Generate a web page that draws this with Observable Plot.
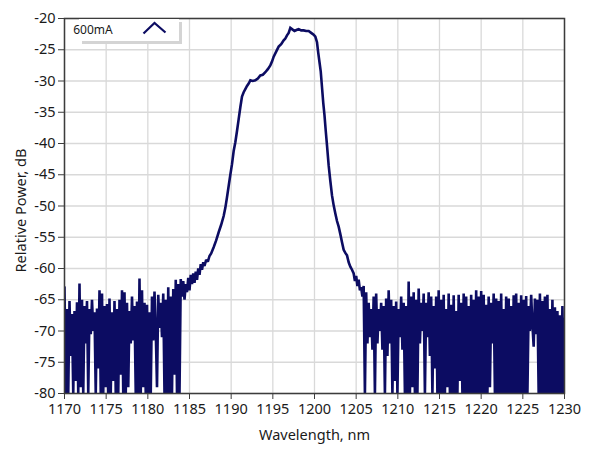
<!DOCTYPE html>
<html><head><meta charset="utf-8">
<script src="https://cdn.jsdelivr.net/npm/d3@7"></script>
<script src="https://cdn.jsdelivr.net/npm/@observablehq/plot@0.6"></script>
<style>
body{margin:0;background:#fff;}
#chart{width:589px;height:456px;}
</style></head><body><div id="chart"></div>
<script>
const seriesName = "600mA";
const xLabel = "Wavelength, nm";
const yLabel = "Relative Power, dB";
const xTicks = [1170,1175,1180,1185,1190,1195,1200,1205,1210,1215,1220,1225,1230];
const yTicks = [-80,-75,-70,-65,-60,-55,-50,-45,-40,-35,-30,-25,-20];

// noise floor left of the peak, sampled every 0.15 nm from 1170 nm
const noiseLeftStart = 1170.0;
const noiseStep = 0.15;
const noiseLeftDb = [
-63.0,-80,-66.5,-80,-65.2,-74,-67.3,-80,-66.8,-78,
-65.4,-80,-62.4,-79,-65.0,-80,-66.0,-72,-65.2,-80,
-66.5,-70.5,-65.0,-70.0,-67.0,-80,-66.4,-76,-63.5,-80,
-64.0,-80,-66.0,-79,-65.7,-80,-64.8,-80,-67.0,-78,
-65.2,-80,-66.5,-80,-65.0,-77,-63.5,-80,-63.8,-80,
-65.5,-79,-66.8,-72,-64.5,-71.5,-66.0,-80,-65.3,-80,
-61.6,-80,-63.5,-79,-65.5,-80,-65.8,-80,-67.0,-80,
-64.5,-71.5,-63.7,-70,-79,-64.2,-69.5,-65.5,-71,-64.0,
-80,-65.0,-80,-63.0,-80,-64.5,-80,-63.3,-77,-61.8,
-80,-62.5,-80
];

// main emission band
const peakWl = [
1183.95,1184.1,1184.25,1184.4,1184.55,1184.7,1184.85,1185.0,1185.15,1185.3,
1185.45,1185.6,1185.75,1185.9,1186.05,1186.2,1186.35,1186.5,1186.65,1186.8,
1187.0,1187.2,1187.4,1187.6,1187.9,1188.2,1188.5,1188.8,1189.1,1189.3,
1189.5,1189.7,1189.9,1190.1,1190.3,1190.5,1190.7,1190.9,1191.1,1191.3,
1191.5,1191.7,1191.9,1192.1,1192.3,1192.6,1192.9,1193.2,1193.5,1193.8,
1194.1,1194.4,1194.7,1194.9,1195.1,1195.4,1195.7,1196.0,1196.3,1196.5,
1196.7,1196.9,1197.1,1197.3,1197.6,1197.9,1198.1,1198.4,1198.7,1199.0,
1199.3,1199.6,1199.9,1200.1,1200.3,1200.45,1200.6,1200.75,1200.9,1201.05,
1201.2,1201.35,1201.5,1201.7,1201.9,1202.1,1202.3,1202.5,1202.7,1202.9,
1203.1,1203.3,1203.5,1203.7,1203.9,1204.1,1204.3,1204.5,1204.7,1204.85,
1205.0,1205.15,1205.3,1205.45
];
const peakDb = [
-61.7,-64.5,-62.0,-65.0,-62.5,-63.8,-61.5,-63.5,-61.0,-62.5,
-60.8,-62.3,-60.5,-61.8,-60.0,-61.0,-59.3,-60.2,-59.0,-59.6,
-58.6,-58.9,-58.0,-57.6,-56.6,-55.5,-54.2,-53.0,-51.6,-50.3,
-48.6,-46.8,-45.0,-43.3,-41.2,-39.8,-38.0,-36.1,-34.2,-32.5,
-31.8,-31.3,-30.8,-30.4,-29.9,-30.0,-29.9,-29.6,-29.1,-29.0,
-28.6,-28.1,-27.5,-26.9,-26.1,-25.3,-24.5,-24.1,-23.5,-23.2,
-22.7,-22.3,-21.5,-21.7,-22.0,-21.8,-21.7,-21.9,-21.9,-22.0,
-22.0,-22.3,-22.6,-22.9,-23.8,-25.5,-27.0,-28.5,-31.0,-33.5,
-35.5,-38.0,-40.3,-43.5,-46.0,-48.3,-49.9,-51.2,-52.4,-53.3,
-54.5,-55.8,-57.0,-57.5,-57.9,-59.0,-59.7,-60.2,-60.8,-62.0,
-61.2,-62.8,-61.8,-63.5
];

// noise floor right of the peak, sampled every 0.15 nm from 1205.6 nm
const noiseRightStart = 1205.6;
const noiseRightDb = [
-63.0,-64.5,-62.8,-80,-63.8,-72,-65.5,-71,-66.5,-73,
-64.5,-80,-64.0,-72,-66.5,-70,-65.5,-73,-66.0,-80,
-64.8,-74,-63.5,-72,-65.0,-80,-66.0,-78,-65.3,-80,
-66.5,-71,-64.5,-73,-65.5,-80,-66.0,-80,-62.1,-80,
-64.5,-79,-63.8,-80,-65.0,-80,-63.2,-72,-65.5,-70,
-64.0,-80,-65.5,-71,-63.8,-74,-64.5,-80,-66.0,-76,
-64.5,-80,-63.5,-80,-65.0,-80,-64.2,-80,-66.5,-79,
-64.0,-80,-65.8,-80,-64.3,-80,-66.8,-80,-64.2,-78,
-65.5,-80,-64.0,-80,-64.5,-80,-66.0,-80,-64.2,-80,
-65.0,-80,-63.5,-80,-64.5,-80,-63.6,-80,-64.2,-80,
-65.8,-80,-64.5,-79,-65.5,-72,-64.0,-80,-64.8,-80,
-65.2,-80,-64.0,-80,-66.5,-80,-64.5,-80,-64.8,-80,
-66.0,-80,-64.3,-80,-64.0,-80,-65.5,-80,-64.3,-80,
-65.0,-80,-64.4,-80,-66.0,-70,-64.2,-69,-72.5,-64.8,
-70.5,-65.0,-80,-64.0,-80,-65.2,-80,-64.5,-80,-64.2,
-80,-66.5,-80,-65.0,-80,-66.2,-80,-66.8,-80,-67.5,
-80,-66.0,-80,-68.0
];

const data = [];
noiseLeftDb.forEach((v, i) => data.push({wl: noiseLeftStart + i * noiseStep, db: v}));
peakWl.forEach((w, i) => data.push({wl: w, db: peakDb[i]}));
noiseRightDb.forEach((v, i) => data.push({wl: noiseRightStart + i * noiseStep, db: v}));

const font = "'Noto Sans', 'Open Sans', sans-serif";
const lineColor = "#0c0c62";

const chart = Plot.plot({
  width: 589,
  height: 456,
  marginLeft: 64,
  marginRight: 25,
  marginTop: 18,
  marginBottom: 63,
  style: {fontFamily: font, fontSize: "14px", color: "#1a1a1a", background: "#ffffff"},
  x: {domain: [1170, 1230]},
  y: {domain: [-80, -20]},
  marks: [
    Plot.gridX(xTicks, {stroke: "#d9d9d9", strokeOpacity: 1, strokeWidth: 1.3}),
    Plot.gridY(yTicks, {stroke: "#d9d9d9", strokeOpacity: 1, strokeWidth: 1.3}),
    Plot.line(data, {x: "wl", y: "db", stroke: lineColor, strokeWidth: 2.6, clip: true, strokeLinejoin: "miter", strokeMiterlimit: 2}),
    Plot.frame({stroke: "#3c3c3c", strokeWidth: 1.5}),
    Plot.axisX(xTicks, {tickSize: 6, tickPadding: 4, tickFormat: d => String(d), label: null, stroke: "#3c3c3c", fontSize: 14.5}),
    Plot.axisY(yTicks, {tickSize: 6, tickPadding: 3, tickFormat: d => String(d), label: null, stroke: "#3c3c3c", fontSize: 14.5}),
    Plot.text([xLabel], {frameAnchor: "bottom", dy: 42, lineAnchor: "middle", fontSize: 14.5, fill: "#1a1a1a"}),
    Plot.text([yLabel], {frameAnchor: "left", dx: -43, dy: 4.5, rotate: -90, lineAnchor: "middle", textAnchor: "middle", fontSize: 14.5, fill: "#1a1a1a"})
  ]
});

// legend box in the upper-left corner of the plot
const svg = d3.select(chart);
const g = svg.append("g").attr("class", "legend");
g.append("rect").attr("x", 82).attr("y", 22).attr("width", 100).attr("height", 22).attr("fill", "#d4d4d4");
g.append("rect").attr("x", 79).attr("y", 19).attr("width", 100).attr("height", 22).attr("fill", "#ffffff");
g.append("text").attr("x", 93).attr("y", 30).attr("dy", "0.35em")
  .attr("font-family", font).attr("font-size", 12).attr("fill", "#1a1a1a").text(seriesName);
g.append("path").attr("d", "M143.5,33.5L154.5,23L165.5,32.5")
  .attr("fill", "none").attr("stroke", lineColor).attr("stroke-width", 2.2);

document.getElementById("chart").appendChild(chart);
</script>
</body></html>
